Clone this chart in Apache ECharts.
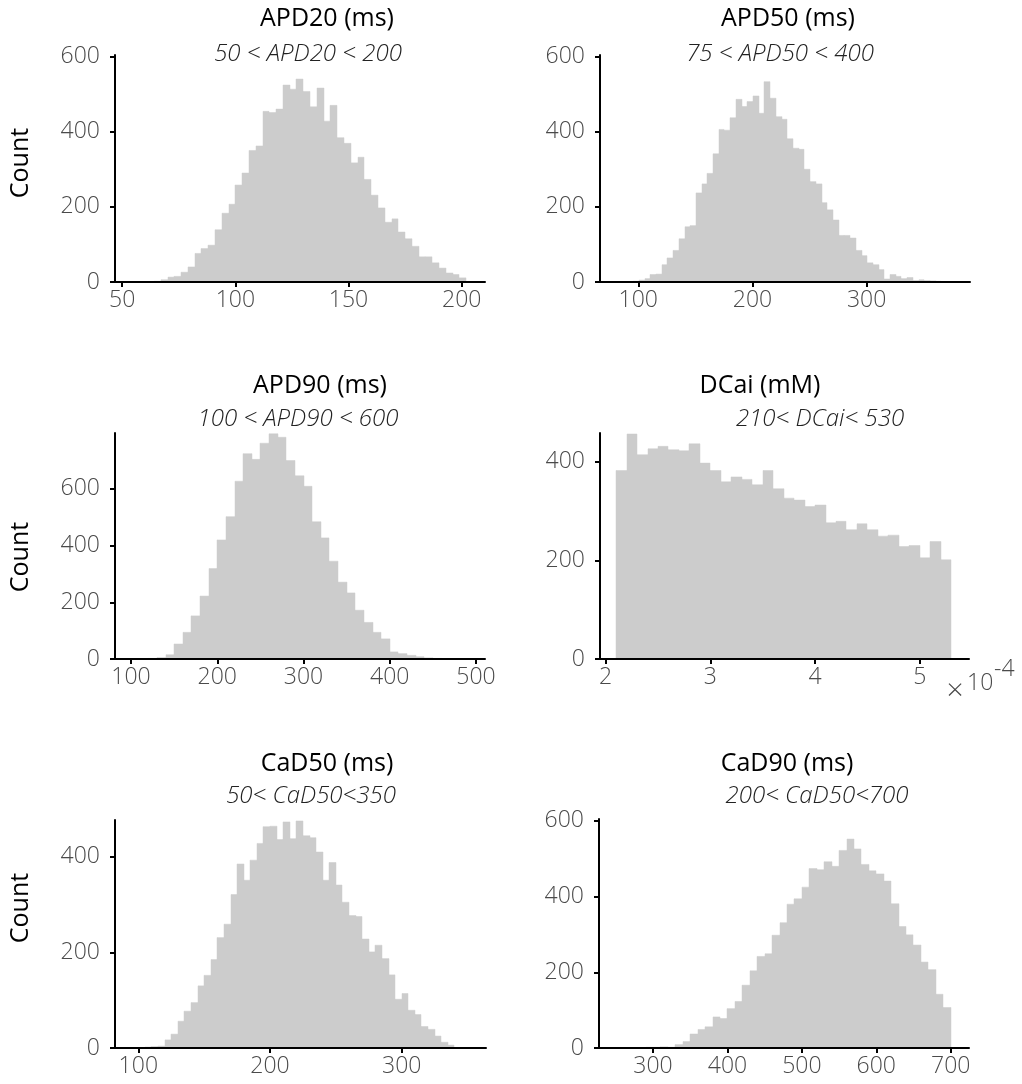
<!DOCTYPE html>
<html><head><meta charset="utf-8">
<script src="https://cdn.jsdelivr.net/npm/echarts@6/dist/echarts.min.js"></script>
<style>html,body{margin:0;padding:0;background:#fff}#c{width:1022px;height:1084px}</style>
</head><body><div id="c"></div>
<script>
// ---------- DATA ----------
const apd20Edges = [64,67,70,73,76,79,82,85,88,91,94,97,100,103,106,109,112,115,118,121,124,127,130,133,136,139,142,145,148,151,154,157,160,163,166,169,172,175,178,181,184,187,190,193,196,199,202];
const apd20Counts = [2,6,13,15,26,40,76,89,98,139,183,207,258,290,350,362,454,451,460,524,513,540,507,466,516,428,470,384,369,317,332,273,231,197,159,168,133,115,95,67,67,51,37,24,20,11];

const apd50Edges = [95.5,100.5,105.5,110.5,115.5,120.5,125.5,130.5,135.5,140.5,145.5,150.5,155.5,160.5,165.5,170.5,175.5,180.5,185.5,190.5,195.5,200.5,205.5,210.5,215.5,220.5,225.5,230.5,235.5,240.5,245.5,250.5,255.5,260.5,265.5,270.5,275.5,280.5,285.5,290.5,295.5,300.5,305.5,310.5,315.5,320.5,325.5,330.5,335.5,340.5,345.5,350.5,355.5,360.5,365.5];
const apd50Counts = [2,5,9,20,21,46,64,84,115,147,150,237,261,289,341,406,404,437,486,467,480,495,449,533,489,440,433,381,356,353,300,267,261,211,192,165,124,124,117,84,70,51,46,33,8,20,15,9,12,4,6,4,3,2];

const apd90Edges = [110,120,130,140,150,160,170,180,190,200,210,220,230,240,250,260,270,280,290,300,310,320,330,340,350,360,370,380,390,400,410,420,430,440,450,460,470];
const apd90Counts = [1,2,5,15,53,94,152,222,319,420,502,627,724,704,761,794,782,700,646,609,484,427,345,271,233,172,129,94,71,25,19,13,8,4,2,1];

const dcaiEdges = [2.1e-4,2.2e-4,2.3e-4,2.4e-4,2.5e-4,2.6e-4,2.7e-4,2.8e-4,2.9e-4,3.0e-4,3.1e-4,3.2e-4,3.3e-4,3.4e-4,3.5e-4,3.6e-4,3.7e-4,3.8e-4,3.9e-4,4.0e-4,4.1e-4,4.2e-4,4.3e-4,4.4e-4,4.5e-4,4.6e-4,4.7e-4,4.8e-4,4.9e-4,5.0e-4,5.1e-4,5.2e-4,5.3e-4];
const dcaiCounts = [382,456,414,426,431,424,422,436,397,382,359,369,364,353,382,345,326,322,309,312,276,279,262,274,262,249,251,228,230,205,238,201];

const cad50Edges = [105,110,115,120,125,130,135,140,145,150,155,160,165,170,175,180,185,190,195,200,205,210,215,220,225,230,235,240,245,250,255,260,265,270,275,280,285,290,295,300,305,310,315,320,325,330,335,340,345];
const cad50Counts = [2,3,4,17,29,56,77,95,130,152,185,231,259,321,385,351,393,428,463,464,436,473,438,475,444,440,410,351,388,341,305,277,275,228,201,215,187,153,102,114,79,70,45,39,25,12,6,1];

const cad90Edges = [290,300,310,320,330,340,350,360,370,380,390,400,410,420,430,440,450,460,470,480,490,500,510,520,530,540,550,560,570,580,590,600,610,620,630,640,650,660,670,680,690,700];
const cad90Counts = [2,2,3,2,9,17,37,49,56,82,78,104,123,166,204,242,249,298,331,380,394,425,474,471,492,480,522,552,526,485,468,460,441,381,321,299,272,227,207,142,107];

const titles = ['APD20 (ms)','APD50 (ms)','APD90 (ms)','DCai (mM)','CaD50 (ms)','CaD90 (ms)'];
const subtitles = ['50 < APD20 < 200','75 < APD50 < 400','100 < APD90 < 600','210< DCai< 530','50< CaD50<350','200< CaD50<700'];

const apd20XTicks = [50,100,150,200], apd50XTicks = [100,200,300], apd90XTicks = [100,200,300,400,500];
const dcaiXTicks = [2e-4,3e-4,4e-4,5e-4], cad50XTicks = [100,200,300], cad90XTicks = [300,400,500,600,700];
const yTicks600 = [0,200,400,600], yTicks400 = [0,200,400];

// ---------- LAYOUT ----------
const panels = [
  {edges:apd20Edges, counts:apd20Counts, grid:{left:115,top:55,width:370,height:227}, xMin:46.8, xMax:210.3, yMax:604, xTicks:apd20XTicks, yTicks:yTicks600, t:[327,19], s:[308,54]},
  {edges:apd50Edges, counts:apd50Counts, grid:{left:600,top:55,width:370,height:227}, xMin:66.5, xMax:390.5, yMax:604, xTicks:apd50XTicks, yTicks:yTicks600, t:[788,19], s:[780,54]},
  {edges:apd90Edges, counts:apd90Counts, grid:{left:115,top:433,width:370,height:226}, xMin:81.4, xMax:510.4, yMax:797, xTicks:apd90XTicks, yTicks:yTicks600, t:[320,386], s:[298,419]},
  {edges:dcaiEdges, counts:dcaiCounts, grid:{left:600,top:433,width:369,height:226}, xMin:1.946e-4, xMax:5.47e-4, yMax:458, xTicks:dcaiXTicks, yTicks:yTicks400, t:[760,386], s:[820,419], fmt:v=>String(Math.round(v*1e4))},
  {edges:cad50Edges, counts:cad50Counts, grid:{left:115,top:820,width:371,height:228}, xMin:82.3, xMax:364, yMax:477, xTicks:cad50XTicks, yTicks:yTicks400, t:[327,764], s:[311,796]},
  {edges:cad90Edges, counts:cad90Counts, grid:{left:599,top:819,width:370,height:229}, xMin:227.4, xMax:724.6, yMax:605, xTicks:cad90XTicks, yTicks:yTicks600, t:[787,764], s:[817,796]}
];

const tickFont = {fontFamily:'Open Sans', fontSize:23, fontWeight:300, color:'#4a4a4a'};

function renderItem(params, api){
  const p0 = api.coord([api.value(0), api.value(2)]);
  const p1 = api.coord([api.value(1), 0]);
  const x0 = Math.round(p0[0]), x1 = Math.round(p1[0]);
  return {type:'rect', shape:{x:x0, y:p0[1], width:x1-x0, height:p1[1]-p0[1]},
          style:{fill:'#cccccc', stroke:'#cccccc', lineWidth:0.5}};
}

const grid=[], xAxis=[], yAxis=[], series=[], graphic=[];
panels.forEach((p,i)=>{
  grid.push(Object.assign({containLabel:false}, p.grid));
  xAxis.push({type:'value', gridIndex:i, min:p.xMin, max:p.xMax, z:5,
    axisLine:{show:true, onZero:false, lineStyle:{color:'#000', width:2}},
    axisTick:{show:true, length:5, customValues:p.xTicks, lineStyle:{color:'#000', width:2}},
    axisLabel:Object.assign({customValues:p.xTicks, margin:7, formatter:p.fmt || (v=>String(v))}, tickFont),
    splitLine:{show:false}});
  yAxis.push({type:'value', gridIndex:i, min:0, max:p.yMax, z:5,
    axisLine:{show:true, onZero:false, lineStyle:{color:'#000', width:2}},
    axisTick:{show:true, length:5, customValues:p.yTicks, lineStyle:{color:'#000', width:2}},
    axisLabel:Object.assign({customValues:p.yTicks, margin:15}, tickFont),
    splitLine:{show:false}});
  series.push({type:'custom', xAxisIndex:i, yAxisIndex:i, z:1, silent:true, clip:true,
    renderItem:renderItem, encode:{x:[0,1], y:2},
    data:p.counts.map((c,j)=>[p.edges[j], p.edges[j+1], c])});
  graphic.push({type:'text', x:p.t[0], y:p.t[1], style:{text:titles[i], fontFamily:'Open Sans', fontSize:25, fill:'#000', align:'center', verticalAlign:'middle'}});
  graphic.push({type:'text', x:p.s[0], y:p.s[1], style:{text:subtitles[i], fontFamily:'Open Sans', fontStyle:'italic', fontWeight:300, fontSize:24, fill:'#222', align:'center', verticalAlign:'middle'}});
});
[163,557,908].forEach(y=>{
  graphic.push({type:'text', x:21, y:y, rotation:Math.PI/2, style:{text:'Count', fontFamily:'Open Sans', fontSize:25, fill:'#000', align:'center', verticalAlign:'middle'}});
});
graphic.push({type:'text', x:955, y:691, style:{text:'×', fontFamily:'Open Sans', fontWeight:300, fontSize:30, fill:'#4a4a4a', align:'center', verticalAlign:'middle'}});
graphic.push({type:'text', x:967, y:683, style:{text:'10', fontFamily:'Open Sans', fontWeight:300, fontSize:23, fill:'#4a4a4a', align:'left', verticalAlign:'middle'}});
graphic.push({type:'text', x:994, y:669, style:{text:'-4', fontFamily:'Open Sans', fontWeight:300, fontSize:23, fill:'#4a4a4a', align:'left', verticalAlign:'middle'}});

const chart = echarts.init(document.getElementById('c'), null, {renderer:'canvas'});
chart.setOption({animation:false, backgroundColor:'#fff', grid, xAxis, yAxis, series, graphic});
</script></body></html>
